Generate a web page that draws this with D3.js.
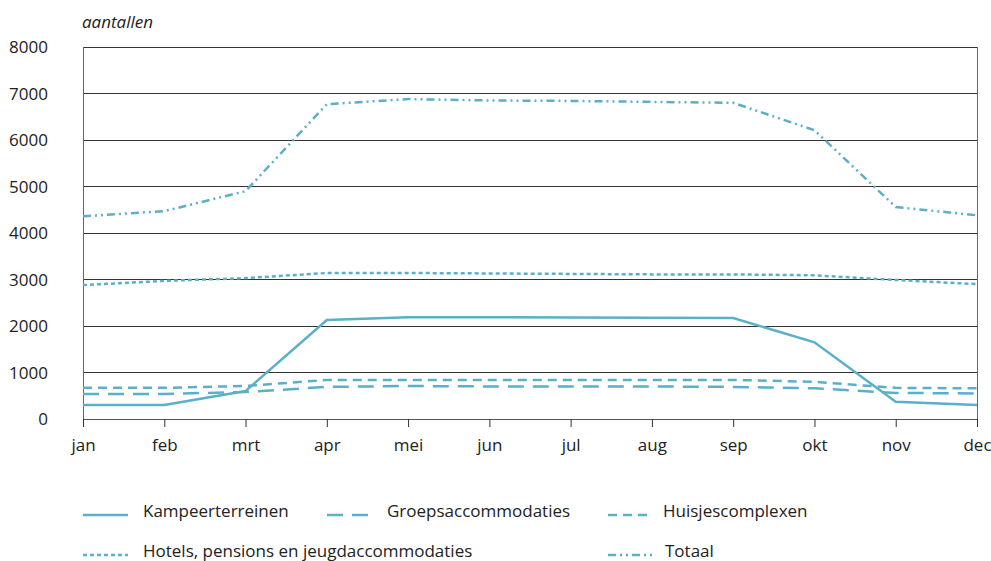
<!DOCTYPE html>
<html><head><meta charset="utf-8">
<script src="https://cdn.jsdelivr.net/npm/d3@7"></script>
<style>body{margin:0;background:#fff}svg{display:block}text{font-family:"Open Sans","Noto Sans",sans-serif;fill:#222}</style>
</head><body><svg id="c" width="991" height="561"></svg>
<script>
const months = ["jan","feb","mrt","apr","mei","jun","jul","aug","sep","okt","nov","dec"];
const yTicks = [0,1000,2000,3000,4000,5000,6000,7000,8000];
const kampeer = [300,300,600,2130,2190,2190,2185,2175,2170,1650,370,300];
const groeps = [540,540,580,690,710,700,700,700,690,660,560,550];
const huisjes = [670,670,710,840,840,840,840,840,840,800,670,660];
const hotels = [2880,2970,3030,3140,3140,3130,3120,3110,3110,3090,2990,2900];
const totaal = [4360,4470,4900,6770,6880,6850,6840,6820,6800,6210,4560,4380];
const seriesNames = ["Kampeerterreinen","Groepsaccommodaties","Huisjescomplexen","Hotels, pensions en jeugdaccommodaties","Totaal"];

const color = "#5aafc9";
const dashes = [null,"16,9","9,6","4,3","8,4,2,4,2,4"];
const data = [kampeer,groeps,huisjes,hotels,totaal];
const fs = 17;

const svg = d3.select("#c");
const x = d3.scalePoint().domain(months).range([83,977]);
const y = d3.scaleLinear().domain([0,8000]).range([419,47]);

svg.append("g").selectAll("line").data(yTicks).join("line")
  .attr("x1",83).attr("x2",977).attr("y1",d=>y(d)).attr("y2",d=>y(d))
  .attr("stroke",d=>d===0?"#555":"#333").attr("stroke-width",1).attr("shape-rendering","crispEdges");
svg.append("line").attr("x1",83).attr("x2",83).attr("y1",47).attr("y2",419).attr("stroke","#666").attr("shape-rendering","crispEdges");
svg.append("line").attr("x1",977).attr("x2",977).attr("y1",47).attr("y2",419).attr("stroke","#666").attr("shape-rendering","crispEdges");

svg.append("g").selectAll("text").data(yTicks).join("text")
  .attr("x",48).attr("y",d=>y(d)+6).attr("text-anchor","end").attr("font-size",fs).text(d=>d);

const xa = svg.append("g").attr("transform","translate(0,419)").call(d3.axisBottom(x).tickSize(8).tickPadding(12));
xa.select(".domain").remove();
xa.selectAll(".tick line").attr("stroke","#333");
xa.selectAll(".tick text").attr("font-size",fs).attr("fill","#222").style("font-family","'Open Sans','Noto Sans',sans-serif");

svg.append("text").attr("x",82).attr("y",28).attr("font-size",fs).attr("font-style","italic").text("aantallen");

const line = d3.line().x((d,i)=>x(months[i])).y(d=>y(d));
data.forEach((s,i)=>{
  svg.append("path").attr("d",line(s)).attr("fill","none").attr("stroke",color)
    .attr("stroke-width",2.5).attr("stroke-dasharray",dashes[i]);
});

const leg = [
  {i:0,x:83,y:511,len:45,tx:143},
  {i:1,x:327,y:511,len:45,tx:387},
  {i:2,x:608,y:511,len:42,tx:663},
  {i:3,x:83,y:551,len:45,tx:143},
  {i:4,x:608,y:551,len:47,tx:665}
];
leg.forEach(l=>{
  svg.append("line").attr("x1",l.x).attr("x2",l.x+l.len).attr("y1",l.y+4).attr("y2",l.y+4)
    .attr("stroke",color).attr("stroke-width",2.5).attr("stroke-dasharray",dashes[l.i]);
  svg.append("text").attr("x",l.tx).attr("y",l.y+6).attr("font-size",fs).text(seriesNames[l.i]);
});
</script></body></html>
